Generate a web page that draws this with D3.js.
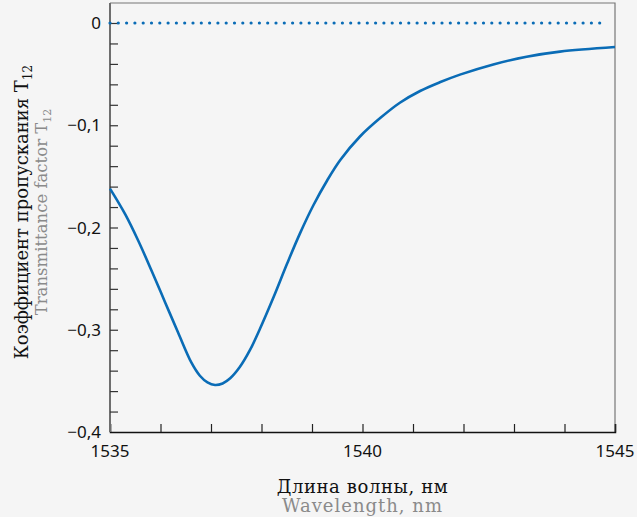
<!DOCTYPE html>
<html>
<head>
<meta charset="utf-8">
<script src="https://cdn.jsdelivr.net/npm/d3@7"></script>
<style>
  body { margin: 0; background: #f5f5f5; }
  svg { display: block; }
</style>
</head>
<body>
<div id="chart"></div>
<script>
// Wavelength, nm
const wavelength = [1535.00, 1535.30, 1535.56, 1535.83, 1536.09, 1536.35, 1536.61, 1536.78, 1536.93,
  1537.08, 1537.23, 1537.38, 1537.57, 1537.77, 1537.97, 1538.24, 1538.51, 1538.76, 1539.03,
  1539.30, 1539.56, 1539.95, 1540.35, 1540.74, 1541.14, 1541.53, 1541.93, 1542.59, 1543.25,
  1543.91, 1545.00];
// Transmittance factor T12
const transmittance = [-0.162, -0.187, -0.213, -0.243, -0.273, -0.303, -0.332, -0.345, -0.3515,
  -0.354, -0.3525, -0.3475, -0.3365, -0.320, -0.299, -0.268, -0.235, -0.206, -0.178,
  -0.154, -0.134, -0.111, -0.093, -0.078, -0.0665, -0.058, -0.0505, -0.0405, -0.033,
  -0.028, -0.0235];
// reference level (dotted)
const refLevel = [0, 0];
const refX = [1535, 1544.85];

const xMajor = [1535, 1540, 1545];
const yMajor = [0, -0.1, -0.2, -0.3, -0.4];

const width = 637, height = 517;
const margin = {top: 3, right: 22, bottom: 85, left: 110};
const innerW = width - margin.left - margin.right;
const innerH = height - margin.top - margin.bottom;

const svg = d3.select("#chart").append("svg")
    .attr("width", width)
    .attr("height", height);

svg.append("rect").attr("width", width).attr("height", height).attr("fill", "#f5f5f5");

const g = svg.append("g")
    .attr("transform", "translate(" + margin.left + "," + margin.top + ")");

// Scales
const x = d3.scaleLinear().domain([1535, 1545]).range([0, innerW]);
const y = d3.scaleLinear().domain([-0.4, 0.0]).range([innerH, 20]);

// Frame (top and right)
g.append("path")
    .attr("d", `M0,0H${innerW}V${innerH}`)
    .attr("fill", "none")
    .attr("stroke", "#777")
    .attr("stroke-width", 1.2);

// Axes - ticks pointing inward
const xAxis = d3.axisTop(x)
    .tickValues(d3.range(1535, 1545.01, 1))
    .tickSize(8)
    .tickFormat("");
const xAxisG = g.append("g")
    .attr("transform", "translate(0," + innerH + ")")
    .call(xAxis);
xAxisG.select(".domain").attr("stroke", "#111").attr("stroke-width", 1.5);
xAxisG.selectAll(".tick line").attr("stroke", "#222").attr("stroke-width", 1.2);

const yAxis = d3.axisRight(y)
    .tickValues(d3.range(0, 20).map(i => -i * 0.02))
    .tickSize(8)
    .tickFormat("");
const yAxisG = g.append("g").call(yAxis);
yAxisG.select(".domain").attr("d", `M0,0V${innerH}`).attr("stroke", "#6e6e6e").attr("stroke-width", 2);
yAxisG.selectAll(".tick line").attr("stroke", "#333").attr("stroke-width", 1.2);

// Tick labels
const fmt = v => (v === 0 ? "0" : "\u2212" + d3.format(".1f")(Math.abs(v)).replace(".", ","));
g.selectAll(".ylab").data(yMajor).enter().append("text")
    .attr("class", "ylab")
    .attr("x", -9)
    .attr("y", d => y(d))
    .attr("dy", "0.36em")
    .attr("text-anchor", "end")
    .attr("font-family", "Noto Sans")
    .attr("font-size", 17)
    .attr("fill", "#111")
    .text(fmt);

g.selectAll(".xlab").data(xMajor).enter().append("text")
    .attr("class", "xlab")
    .attr("x", d => x(d))
    .attr("y", innerH + 25)
    .attr("text-anchor", "middle")
    .attr("font-family", "Noto Sans")
    .attr("font-size", 17)
    .attr("fill", "#111")
    .text(d => d);

// Dotted reference line
const line = d3.line().x(d => x(d[0])).y(d => y(d[1]));
g.append("path")
    .datum(refX.map((d, i) => [d, refLevel[i]]))
    .attr("d", line)
    .attr("fill", "none")
    .attr("stroke", "#0a6cb6")
    .attr("stroke-width", 3.2)
    .attr("stroke-linecap", "round")
    .attr("stroke-dasharray", "0,8.3");

// Curve
g.append("path")
    .datum(wavelength.map((d, i) => [d, transmittance[i]]))
    .attr("d", d3.line().x(d => x(d[0])).y(d => y(d[1])).curve(d3.curveCatmullRom.alpha(0.5)))
    .attr("fill", "none")
    .attr("stroke", "#0a6cb6")
    .attr("stroke-width", 2.6);

// Axis titles
const cx = margin.left + x(1540);
svg.append("text")
    .attr("x", cx).attr("y", 493)
    .attr("text-anchor", "middle")
    .attr("font-family", "DejaVu Serif")
    .attr("font-size", 18)
    .attr("letter-spacing", 0.6)
    .attr("fill", "#111")
    .text("Длина волны, нм");
svg.append("text")
    .attr("x", cx).attr("y", 512)
    .attr("text-anchor", "middle")
    .attr("font-family", "DejaVu Serif")
    .attr("font-size", 18)
    .attr("letter-spacing", 1)
    .attr("fill", "#8a8a8a")
    .text("Wavelength, nm");

const yt1 = svg.append("text")
    .attr("transform", "translate(28,212) rotate(-90)")
    .attr("text-anchor", "middle")
    .attr("font-family", "DejaVu Serif")
    .attr("font-size", 18)
    .attr("fill", "#111");
yt1.append("tspan").text("Коэффициент пропускания T");
yt1.append("tspan").attr("font-size", 12).attr("dy", 4).text("12");

const yt2 = svg.append("text")
    .attr("transform", "translate(47,212) rotate(-90)")
    .attr("text-anchor", "middle")
    .attr("font-family", "DejaVu Serif")
    .attr("font-size", 16.5)
    .attr("fill", "#8a8a8a");
yt2.append("tspan").text("Transmittance factor T");
yt2.append("tspan").attr("font-size", 11).attr("dy", 4).text("12");
</script>
</body>
</html>
